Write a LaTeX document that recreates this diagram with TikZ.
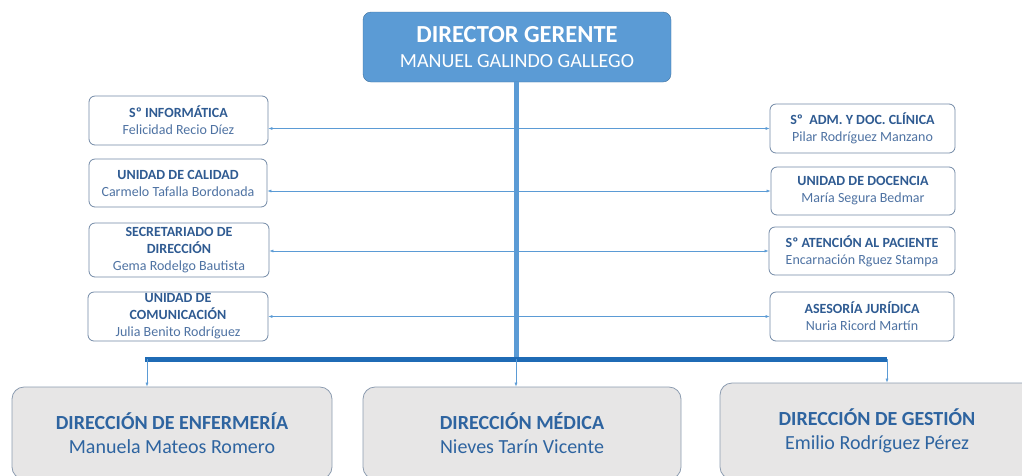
\documentclass[tikz,border=0pt]{standalone}
\usepackage{fontspec}
\setmainfont{Carlito}
\usetikzlibrary{arrows.meta}

\definecolor{gerblue}{HTML}{5B9BD5}
\definecolor{gerline}{HTML}{41719C}
\definecolor{barblue}{HTML}{1F6BB5}
\definecolor{boxline}{HTML}{7289A6}
\definecolor{cargoblue}{HTML}{2F5B92}
\definecolor{personablue}{HTML}{4F73A3}
\definecolor{dirfill}{HTML}{E7E6E6}
\definecolor{dirline}{HTML}{8C9CB0}
\definecolor{dirtext}{HTML}{2E64A0}

\newcommand{\cargo}[1]{{\bfseries\color{cargoblue}#1}}
\newcommand{\persona}[1]{{\color{personablue}#1}}

\begin{document}
\begin{tikzpicture}[x=1pt,y=-1pt,
    gerente/.style={draw=gerline, fill=gerblue, rounded corners=8pt, text=white,
      align=center, minimum width=308pt, minimum height=70pt, inner sep=0pt,
      font=\fontsize{20}{25}\selectfont},
    unidad/.style={draw=boxline, line width=0.8pt, fill=white, rounded corners=6pt, align=center,
      inner sep=0pt, font=\fontsize{14}{17}\selectfont},
    direccion/.style={draw=dirline, line width=0.8pt, fill=dirfill, rounded corners=12pt, align=center,
      inner sep=0pt, text=dirtext, font=\fontsize{20}{24}\selectfont},
    enlace/.style={gerblue, line width=0.6pt, {Latex[length=4pt,width=3pt]}-{Latex[length=4pt,width=3pt]}},
    bajada/.style={gerblue, line width=0.6pt, -{Latex[length=4pt,width=3pt]}}]
    \useasboundingbox (0,0) rectangle (1022,475);

    % Director gerente
    \node[gerente] (dg) at (517,47) {{\bfseries\fontsize{24.5}{25}\selectfont DIRECTOR GERENTE}\\MANUEL GALINDO GALLEGO};

    % Unidades de la izquierda
    \node[unidad, minimum width=179pt, minimum height=49pt] (inf) at (178.5,120.5)
      {\cargo{Sº INFORMÁTICA}\\\persona{Felicidad Recio Díez}};
    \node[unidad, minimum width=178pt, minimum height=48pt] (cal) at (178,183)
      {\cargo{UNIDAD DE CALIDAD}\\\persona{Carmelo Tafalla Bordonada}};
    \node[unidad, minimum width=180pt, minimum height=54pt] (sec) at (179,250)
      {\cargo{SECRETARIADO DE}\\\cargo{DIRECCIÓN}\\\persona{Gema Rodelgo Bautista}};
    \node[unidad, minimum width=180pt, minimum height=49pt] (com) at (178,316.5)
      {\cargo{UNIDAD DE}\\\cargo{COMUNICACIÓN}\\\persona{Julia Benito Rodríguez}};

    % Unidades de la derecha
    \node[unidad, minimum width=185pt, minimum height=49pt] (adm) at (862.5,128.5)
      {\cargo{Sº\ \ ADM. Y DOC. CLÍNICA}\\\persona{Pilar Rodríguez Manzano}};
    \node[unidad, minimum width=184pt, minimum height=48pt] (doc) at (863,191)
      {\cargo{UNIDAD DE DOCENCIA}\\\persona{María Segura Bedmar}};
    \node[unidad, minimum width=186pt, minimum height=48pt] (pac) at (862,251)
      {\cargo{Sº ATENCIÓN AL PACIENTE}\\\persona{Encarnación\ Rguez\ Stampa}};
    \node[unidad, minimum width=184pt, minimum height=49pt] (jur) at (862,316.5)
      {\cargo{ASESORÍA JURÍDICA}\\\persona{Nuria Ricord Martín}};

    % Direcciones
    \node[direccion, minimum width=320pt, minimum height=92pt] (enf) at (172,433)
      {\textbf{DIRECCIÓN DE ENFERMERÍA}\\Manuela Mateos Romero};
    \node[direccion, minimum width=318pt, minimum height=92pt] (med) at (522,433)
      {\textbf{DIRECCIÓN MÉDICA}\\Nieves Tarín Vicente};
    \node[direccion, minimum width=314pt, minimum height=96pt] (ges) at (877,431)
      {\textbf{DIRECCIÓN DE GESTIÓN}\\Emilio Rodríguez Pérez};

    % Tronco y barra
    \coordinate (pie) at (516,357);
    \coordinate (barL) at (145,359);
    \coordinate (barR) at (887,359);
    \draw[gerblue, line width=5pt] (dg.south -| pie) -- (pie);

    % Enlaces con las unidades
    \draw[enlace] (inf.east |- adm.west) -- (adm.west);
    \draw[enlace] (cal.east |- doc.west) -- (doc.west);
    \draw[enlace] (sec.east |- pac.west) -- (pac.west);
    \draw[enlace] (com.east |- jur.west) -- (jur.west);

    \draw[barblue, line width=5pt] (barL) -- (barR);

    % Bajadas a las direcciones
    \draw[bajada] ([xshift=2pt]barL) -- ([xshift=2pt]barL |- enf.north);
    \draw[bajada] (pie |- barL) -- (pie |- med.north);
    \draw[bajada] (barR) -- (barR |- ges.north);
  \end{tikzpicture}
\end{document}
